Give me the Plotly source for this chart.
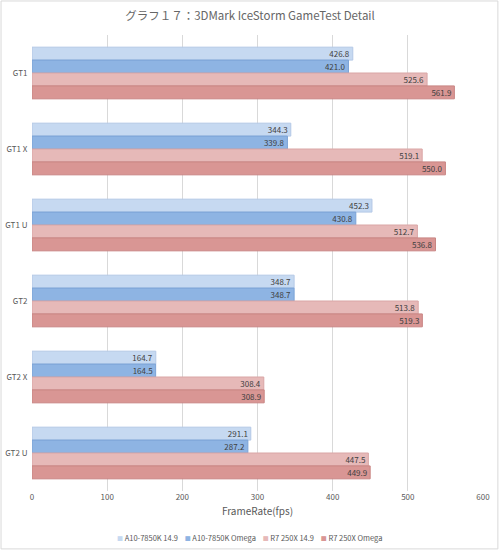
import plotly.graph_objects as go

categories = ["GT1", "GT1 X", "GT1 U", "GT2", "GT2 X", "GT2 U"]
series_names = ["A10-7850K 14.9", "A10-7850K Omega", "R7 250X 14.9", "R7 250X Omega"]
a10_149 = [426.8, 344.3, 452.3, 348.7, 164.7, 291.1]
a10_omega = [421.0, 339.8, 430.8, 348.7, 164.5, 287.2]
r7_149 = [525.6, 519.1, 512.7, 513.8, 308.4, 447.5]
r7_omega = [561.9, 550.0, 536.8, 519.3, 308.9, 449.9]
x_ticks = [0, 100, 200, 300, 400, 500, 600]

values = [a10_149, a10_omega, r7_149, r7_omega]
fills = ["#c6d9f1", "#8eb4e3", "#e6b9b8", "#d99694"]
lines = ["#b4c8e6", "#7aa2d6", "#d9a6a5", "#c88482"]

font = "Noto Sans CJK JP, Noto Sans, sans-serif"
fig = go.Figure()
for name, vals, fc, lc in zip(series_names, values, fills, lines):
    fig.add_trace(go.Bar(
        y=categories, x=vals, name=name, orientation="h", showlegend=False,
        marker=dict(color=fc, line=dict(color=lc, width=1)),
        text=[f"{v:.1f}" for v in vals], textposition="inside",
        insidetextanchor="end", textangle=0,
        textfont=dict(size=8, color="#404040", family=font),
        constraintext="none",
    ))

legend_text = "&nbsp;&nbsp;&nbsp;&nbsp;".join(
    f"<span style='color:{c};font-size:6px'>■</span> {n}" for n, c in zip(series_names, fills)
)

fig.update_layout(
    width=500, height=551,
    barmode="group", bargap=0.32, bargroupgap=0,
    paper_bgcolor="white", plot_bgcolor="white",
    margin=dict(l=32, r=17, t=35, b=60),
    title=dict(text="グラフ１７：3DMark IceStorm GameTest Detail",
               x=0.5, xanchor="center", y=0.971, yanchor="middle",
               font=dict(size=11.5, color="#666666", family=font)),
    font=dict(family=font, size=8, color="#595959"),
    uniformtext=dict(minsize=6, mode="show"),
    annotations=[dict(text=legend_text, xref="paper", yref="paper", x=0.483, y=-0.103,
                      xanchor="center", yanchor="middle", showarrow=False,
                      font=dict(size=7.5, color="#595959", family=font))],
    shapes=[dict(type="rect", xref="paper", yref="paper", x0=-0.0687, x1=1.033, y0=-0.127, y1=1.0746,
                 line=dict(color="#d9d9d9", width=1))],
)
fig.update_xaxes(range=[0, 600], tickvals=x_ticks, showgrid=True, gridcolor="#d9d9d9",
                 zeroline=False, showline=False, ticks="", automargin=False,
                 tickfont=dict(size=8, color="#595959"),
                 title=dict(text="FrameRate(fps)", font=dict(size=10, color="#595959"), standoff=6))
fig.update_yaxes(autorange="reversed", showgrid=False, ticks="", showline=False, automargin=False,
                 tickfont=dict(size=8, color="#595959"), ticksuffix="  ")
fig.write_html("out.html", config={"displayModeBar": False},
               post_script="document.body.style.margin='0';document.body.style.overflow='hidden';")
